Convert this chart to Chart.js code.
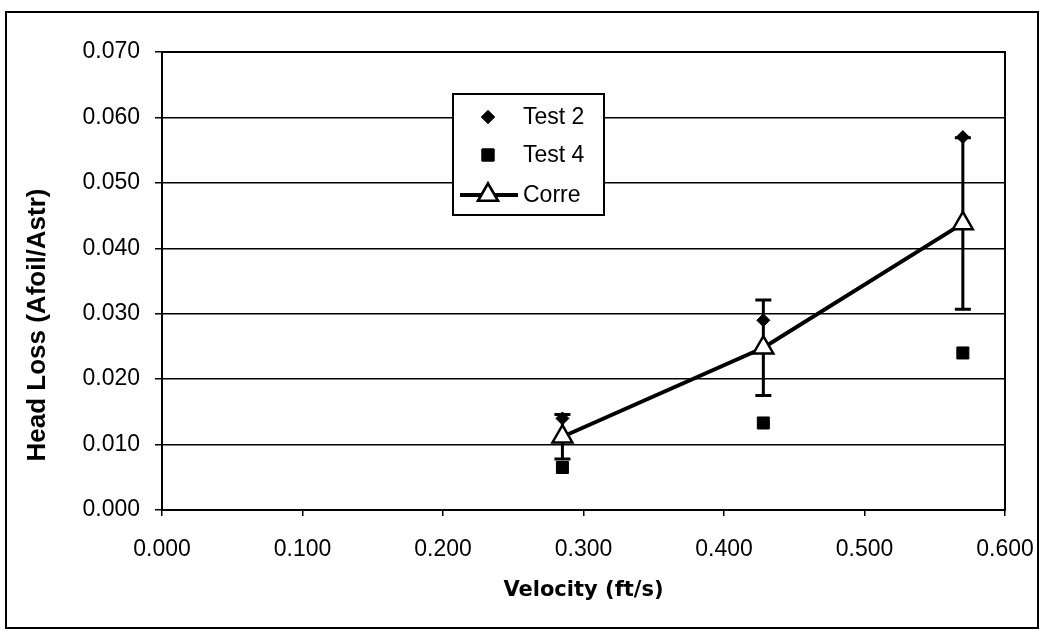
<!DOCTYPE html>
<html>
<head>
<meta charset="utf-8">
<script src="https://cdn.jsdelivr.net/npm/chart.js@4.4.1/dist/chart.umd.min.js"></script>
<style>
  html, body { margin: 0; padding: 0; background: #fff; }
  #wrap { width: 1040px; height: 635px; position: relative; }
</style>
</head>
<body>
<div id="wrap"><canvas id="chart-area" width="1040" height="635"></canvas></div>
<script>
// velocities of the three runs (ft/s)
const velocity = [0.285, 0.428, 0.570]
// measured head loss
const test2 = [0.014, 0.029, 0.057]
const test4 = [0.0065, 0.0133, 0.024]
// correlation and its +/- band
const corre = [0.0112, 0.0248, 0.0438]
const correErr = [0.0034, 0.0073, 0.0131]

const xTicks = ['0.000', '0.100', '0.200', '0.300', '0.400', '0.500', '0.600']
const yTicks = ['0.000', '0.010', '0.020', '0.030', '0.040', '0.050', '0.060', '0.070']

const FONT = "'Liberation Sans', Arial, sans-serif"

function pts(ys) {
    return velocity.map((v, i) => ({x: v, y: ys[i]}))
}

// outer frame + plot frame
const framePlugin = {
    id: 'frame',
    beforeDraw(chart) {
        let ctx = chart.ctx
        ctx.save()
        ctx.fillStyle = '#fff'
        ctx.fillRect(0, 0, chart.width, chart.height)
        ctx.strokeStyle = '#000'
        ctx.lineWidth = 2
        ctx.strokeRect(6, 12, 1032, 616)
        ctx.restore()
    },
    afterDraw(chart) {
        let a = chart.chartArea
        let ctx = chart.ctx
        ctx.save()
        ctx.strokeStyle = '#000'
        ctx.lineWidth = 2
        ctx.strokeRect(a.left, a.top, a.right - a.left, a.bottom - a.top)
        ctx.restore()
    }
}

// error bars on the correlation line
const errorBars = {
    id: 'errorBars',
    beforeDatasetsDraw(chart) {
        let xs = chart.scales.x, ys = chart.scales.y
        let ctx = chart.ctx
        ctx.save()
        ctx.strokeStyle = '#000'
        ctx.lineWidth = 3
        for (let i = 0; i < velocity.length; i++) {
            let x = xs.getPixelForValue(velocity[i])
            let top = ys.getPixelForValue(corre[i] + correErr[i])
            let bot = ys.getPixelForValue(corre[i] - correErr[i])
            ctx.beginPath()
            ctx.moveTo(x, top); ctx.lineTo(x, bot)
            ctx.moveTo(x - 8, top); ctx.lineTo(x + 8, top)
            ctx.moveTo(x - 8, bot); ctx.lineTo(x + 8, bot)
            ctx.stroke()
        }
        ctx.restore()
    }
}

// boxed legend sitting inside the plot
const boxLegend = {
    id: 'boxLegend',
    afterDraw(chart) {
        let ctx = chart.ctx
        let bx = 453, by = 94, bw = 151, bh = 121
        ctx.save()
        ctx.fillStyle = '#fff'
        ctx.fillRect(bx, by, bw, bh)
        ctx.strokeStyle = '#000'
        ctx.lineWidth = 2
        ctx.strokeRect(bx, by, bw, bh)
        let rows = [117, 155, 195]
        chart.data.datasets.forEach((ds, i) => {
            let y = rows[i]
            if (ds.showLine) {
                ctx.beginPath()
                ctx.lineWidth = ds.borderWidth
                ctx.moveTo(460, y); ctx.lineTo(518, y)
                ctx.stroke()
            }
            ctx.lineWidth = ds.pointBorderWidth
            Chart.helpers.drawPoint(ctx, {
                pointStyle: ds.pointStyle,
                radius: ds.pointRadius,
                rotation: 0,
                borderWidth: ds.pointBorderWidth
            }, 488, y)
            ctx.fillStyle = ds.pointBackgroundColor
            ctx.fill()
            ctx.strokeStyle = ds.pointBorderColor
            ctx.stroke()
            ctx.fillStyle = '#000'
            ctx.font = '23px ' + FONT
            ctx.textBaseline = 'middle'
            ctx.textAlign = 'left'
            ctx.fillText(ds.label, 523, y + 1)
        })
        ctx.restore()
    }
}

// vertical axis title, centred a bit below the plot middle
const yTitle = {
    id: 'yTitle',
    afterDraw(chart) {
        let ctx = chart.ctx
        ctx.save()
        ctx.translate(38, 325)
        ctx.rotate(-Math.PI / 2)
        ctx.font = 'bold 26px ' + FONT
        ctx.fillStyle = '#000'
        ctx.textAlign = 'center'
        ctx.textBaseline = 'middle'
        ctx.fillText('Head Loss (Afoil/Astr)', 0, 0)
        ctx.restore()
    }
}

const config = {
    type: 'scatter',
    data: {
        datasets: [{
            label: 'Test 2',
            data: pts(test2),
            pointStyle: 'rectRot',
            pointRadius: 6.5,
            pointBackgroundColor: '#000',
            pointBorderColor: '#000',
            pointBorderWidth: 1,
            showLine: false
        }, {
            label: 'Test 4',
            data: pts(test4),
            pointStyle: 'rect',
            pointRadius: 8.5,
            pointBackgroundColor: '#000',
            pointBorderColor: '#000',
            pointBorderWidth: 1,
            showLine: false
        }, {
            label: 'Corre',
            data: pts(corre),
            pointStyle: 'triangle',
            pointRadius: 11.5,
            pointBackgroundColor: '#fff',
            pointBorderColor: '#000',
            pointBorderWidth: 2.5,
            borderColor: '#000',
            borderWidth: 4,
            showLine: true
        }]
    },
    options: {
        responsive: false,
        animation: false,
        layout: {padding: {left: 0, top: 52, right: 35, bottom: 0}},
        plugins: {legend: {display: false}, tooltip: {enabled: false}},
        scales: {
            x: {
                type: 'linear',
                min: 0, max: 0.6,
                afterFit(scale) {
                    scale.height = 125
                    // end labels may hang past the plot; don't shrink it for them
                    scale.paddingLeft = 0
                    scale.paddingRight = 0
                },
                afterBuildTicks(scale) { scale.ticks = xTicks.map(t => ({value: parseFloat(t)})) },
                ticks: {
                    callback: (v, i) => xTicks[i],
                    color: '#000',
                    font: {family: FONT, size: 23},
                    padding: 20,
                    maxRotation: 0
                },
                grid: {drawOnChartArea: false, drawTicks: true, tickLength: 6, color: '#000', lineWidth: 1.5},
                border: {display: true, color: '#000', width: 2},
                title: {
                    display: true,
                    text: 'Velocity (ft/s)',
                    color: '#000',
                    font: {family: "'DejaVu Sans', sans-serif", size: 21, weight: 'bold'},
                    padding: {top: 0, bottom: 32}
                }
            },
            y: {
                type: 'linear',
                min: 0, max: 0.07,
                afterFit(scale) { scale.width = 162 },
                afterBuildTicks(scale) { scale.ticks = yTicks.map(t => ({value: parseFloat(t)})) },
                ticks: {
                    callback: (v, i) => yTicks[i],
                    color: '#000',
                    font: {family: FONT, size: 23},
                    padding: 15
                },
                grid: {color: '#000', lineWidth: 1.5, tickLength: 7},
                border: {display: true, color: '#000', width: 2}
            }
        }
    },
    plugins: [framePlugin, errorBars, boxLegend, yTitle]
}

window.myChart = new Chart(document.getElementById('chart-area').getContext('2d'), config)
</script>
</body>
</html>
